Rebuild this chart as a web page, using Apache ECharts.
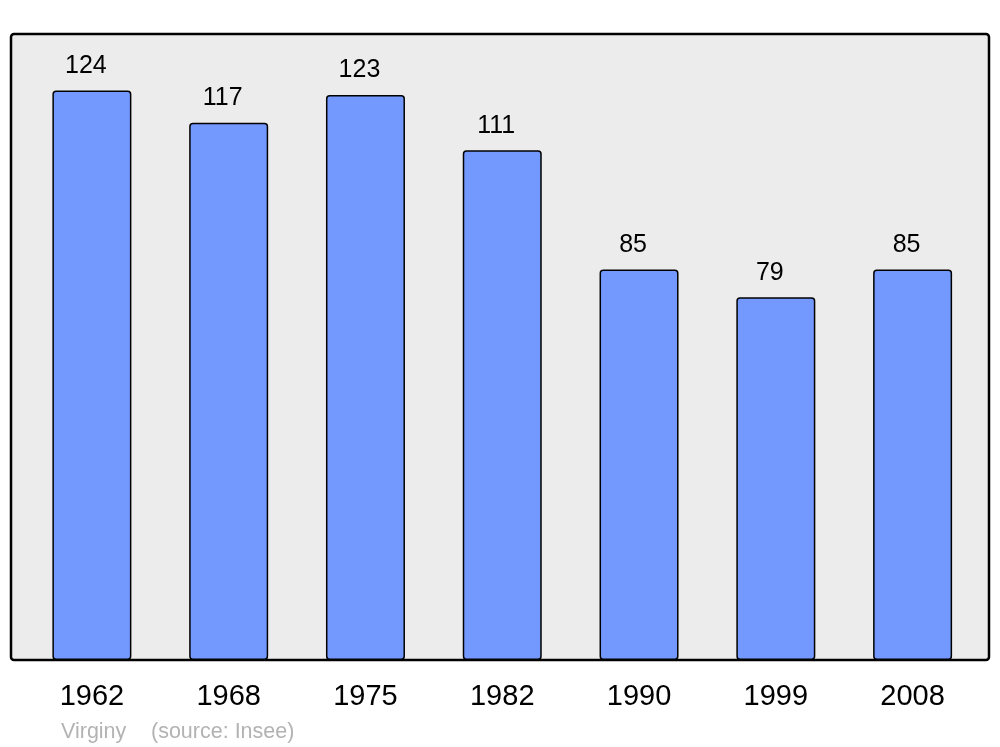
<!DOCTYPE html>
<html><head><meta charset="utf-8">
<script src="https://cdn.jsdelivr.net/npm/echarts@6/dist/echarts.min.js"></script>
<style>html,body{margin:0;padding:0;background:#fff}#c{width:1000px;height:747px}</style>
</head><body><div id="c"></div>
<script>
const years = ['1962','1968','1975','1982','1990','1999','2008'];
const population = [124,117,123,111,85,79,85];
const placeName = 'Virginy';
const sourceText = '(source: Insee)';

const chart = echarts.init(document.getElementById('c'), null, {renderer:'canvas'});
chart.setOption({
  animation:false,
  backgroundColor:'#ffffff',
  textStyle:{fontFamily:'Liberation Sans'},
  grid:{left:23.5, right:19, top:34, bottom:87},
  graphic:[
    {type:'rect', z:-10, shape:{x:11,y:34,width:978,height:626,r:3},
     style:{fill:'#ececec', stroke:'#000', lineWidth:2.5}},
    {type:'text', left:61, top:721, style:{text:placeName, fill:'#b3b3b3', font:'21.5px "Liberation Sans"'}},
    {type:'text', left:151, top:721, style:{text:sourceText, fill:'#b3b3b3', font:'21.5px "Liberation Sans"'}}
  ],
  xAxis:{type:'category', data:years,
    axisLine:{show:false}, axisTick:{show:false},
    axisLabel:{fontSize:29, color:'#000', margin:22, fontFamily:'Liberation Sans'}},
  yAxis:{type:'value', min:0, max:136.3, show:false, splitLine:{show:false}},
  series:[{type:'bar', data:population, barWidth:79,
    itemStyle:{color:'#7399ff', borderColor:'#000', borderWidth:1.5, borderRadius:3},
    label:{show:true, position:'top', distance:12, offset:[-6,0], fontSize:25, color:'#000', fontFamily:'Liberation Sans'}}]
});
</script></body></html>
